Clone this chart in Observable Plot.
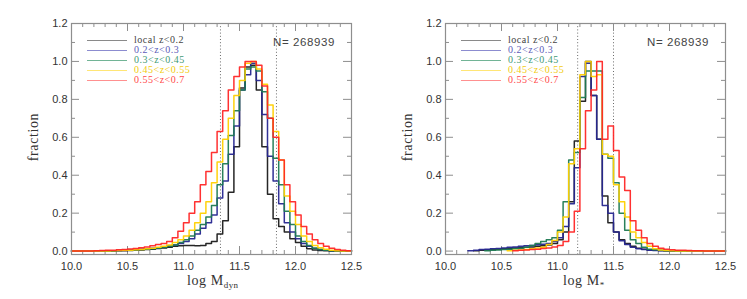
<!DOCTYPE html>
<html><head><meta charset="utf-8">
<script src="https://cdn.jsdelivr.net/npm/d3@7"></script>
<script src="https://cdn.jsdelivr.net/npm/@observablehq/plot@0.6"></script>
<style>
body{margin:0;background:#fff;}
#wrap{position:relative;width:747px;height:299px;overflow:hidden;background:#fff;}
#wrap svg{position:absolute;top:0;}
.t{position:absolute;white-space:nowrap;line-height:1;}
.ax{font-family:"Liberation Serif",serif;font-size:14px;color:#333;letter-spacing:0.6px;}
.ax sub{font-size:9px;vertical-align:-3px;letter-spacing:0.3px;}
.yl{transform:translate(-50%,-50%) rotate(-90deg);}
.nn{font-family:"Liberation Sans",sans-serif;font-size:11.5px;color:#444;letter-spacing:0.6px;}
.lg{font-family:"Liberation Serif",serif;font-size:10px;letter-spacing:0.5px;}
.ll{position:absolute;height:1px;width:40px;}
</style></head><body><div id="wrap"></div>
<script>
// bins: 0.05 dex wide, from 10.0 to 12.5
const binLo = d3.range(50).map(i => +(10 + i * 0.05).toFixed(2));
const binEnd = 12.5;

const seriesNames = ["local z<0.2", "0.2<z<0.3", "0.3<z<0.45", "0.45<z<0.55", "0.55<z<0.7"];
const lineColors = ["#1a1a1a", "#262690", "#1d7a52", "#ffd000", "#ff2626"];
const legendLineColors = ["#8a8a8a", "#8c8cd0", "#72b496", "#ffe676", "#ff9090"];
const legendTextColors = ["#444444", "#5c5cb8", "#3f9a74", "#f2cc10", "#ff4a4a"];

const xMajor = [10.0, 10.5, 11.0, 11.5, 12.0, 12.5];
const xMinor = [10.1,10.2,10.3,10.4,10.6,10.7,10.8,10.9,11.1,11.2,11.3,11.4,11.6,11.7,11.8,11.9,12.1,12.2,12.3,12.4];
const yMajor = [0.0, 0.2, 0.4, 0.6, 0.8, 1.0, 1.2];
const yMinor = [0.1, 0.3, 0.5, 0.7, 0.9, 1.1];

const totalN = "268939";

// ---- left panel: log M_dyn ----
const dynDotted = [11.33, 11.83];
const dynLocal = [0,0,0,0,0,0,0,0.001,0.002,0.002,
  0.003,0.004,0.006,0.008,0.010,0.013,0.016,0.020,0.025,0.028,
  0.030,0.030,0.028,0.030,0.040,0.050,0.090,0.160,0.310,0.550,
  0.860,0.970,0.980,0.850,0.550,0.300,0.170,0.130,0.100,0.065,
  0.045,0.025,0.012,0.006,0.003,0.002,0.001,0,0,0];
const dynZ1 = [0,0,0,0,0,0.001,0.001,0.002,0.003,0.004,
  0.005,0.007,0.010,0.012,0.015,0.018,0.022,0.027,0.032,0.040,
  0.050,0.065,0.090,0.120,0.150,0.190,0.280,0.370,0.510,0.660,
  0.850,0.930,0.990,0.900,0.720,0.500,0.370,0.250,0.150,0.100,
  0.065,0.040,0.025,0.015,0.008,0.004,0.002,0.001,0,0];
const dynZ2 = [0,0,0,0,0,0.001,0.001,0.002,0.003,0.004,
  0.005,0.006,0.008,0.010,0.012,0.015,0.020,0.025,0.032,0.045,
  0.060,0.080,0.110,0.140,0.180,0.240,0.350,0.460,0.610,0.740,
  0.850,0.960,0.970,0.950,0.840,0.700,0.490,0.350,0.210,0.140,
  0.080,0.050,0.030,0.015,0.008,0.004,0.002,0.001,0,0];
const dynZ3 = [0,0,0,0,0,0.001,0.001,0.002,0.003,0.004,
  0.005,0.007,0.009,0.012,0.015,0.020,0.025,0.032,0.045,0.060,
  0.080,0.110,0.150,0.200,0.260,0.360,0.470,0.590,0.700,0.820,
  0.900,0.990,1.000,0.960,0.880,0.770,0.630,0.480,0.290,0.210,
  0.140,0.080,0.050,0.030,0.018,0.010,0.005,0.002,0.001,0];
const dynZ4 = [0,0,0,0.001,0.002,0.003,0.004,0.005,0.007,0.009,
  0.011,0.014,0.018,0.022,0.028,0.035,0.040,0.050,0.070,0.105,
  0.150,0.200,0.260,0.350,0.420,0.520,0.630,0.740,0.850,0.920,
  0.970,1.000,1.000,0.980,0.870,0.700,0.600,0.480,0.350,0.260,
  0.190,0.130,0.090,0.060,0.040,0.025,0.015,0.008,0.004,0.002];

// ---- right panel: log M* ----
const starDotted = [11.18, 11.5];
const starLocal = [null,null,null,null,null,0.002,0.004,0.006,0.008,0.010,
  0.012,0.014,0.016,0.018,0.020,0.022,0.025,0.028,0.032,0.040,
  0.060,0.100,0.260,0.580,0.790,1.000,0.820,0.590,0.290,0.150,
  0.100,0.060,0.040,0.025,0.015,0.010,0.006,0.004,0.003,0.002,
  0.001,0.001,0.001,0,0,0,0,0,0,0];
const starZ1 = [null,null,null,null,0.002,0.004,0.008,0.010,0.012,0.014,
  0.016,0.020,0.022,0.025,0.028,0.030,0.033,0.036,0.040,0.050,
  0.070,0.130,0.250,0.440,0.920,0.990,0.820,0.590,0.240,0.200,
  0.100,0.055,0.035,0.020,0.012,0.008,0.005,0.003,0.002,0.001,
  0.001,0,0,0,0,0,0,0,0,0];
const starZ2 = [null,null,null,null,null,null,null,0.002,0.004,0.006,
  0.008,0.010,0.012,0.015,0.020,0.030,0.040,0.050,0.060,0.070,
  0.110,0.260,0.480,0.520,0.810,0.950,0.950,0.950,0.510,0.490,
  0.360,0.200,0.110,0.060,0.040,0.020,0.010,0.007,0.004,0.002,
  0.001,0.001,0,0,0,0,0,0,0,0];
const starZ3 = [null,null,null,null,null,null,null,null,null,null,
  null,0.002,0.004,0.006,0.008,0.012,0.016,0.020,0.035,0.056,
  0.100,0.180,0.460,0.540,0.930,1.000,0.920,0.930,0.510,0.500,
  0.350,0.260,0.180,0.100,0.070,0.045,0.025,0.012,0.006,0.003,
  0.002,0.001,0.001,0,0,0,0,0,0,0];
const starZ4 = [null,null,null,null,null,null,null,null,null,null,
  null,null,0.002,0.004,0.006,0.008,0.010,0.013,0.016,0.022,
  0.030,0.050,0.100,0.210,0.540,0.740,0.850,1.000,0.590,0.660,
  0.530,0.390,0.320,0.160,0.110,0.070,0.040,0.025,0.015,0.010,
  0.007,0.005,0.004,0.003,0.002,0.002,0.001,0.001,0.001,0];

function rows(values) {
  const r = binLo.map((x, i) => ({x, y: values[i]}));
  r.push({x: binEnd, y: values[values.length - 1]});
  return r;
}

function panel(width, series, dotted) {
  const mt = 23, mb = 45, ml = 71, mr = width - 351, H = 299;
  const iw = width - ml - mr, ih = H - mt - mb;
  const fc = "#8e8e8e";
  return Plot.plot({
    width, height: H,
    marginTop: mt, marginBottom: mb, marginLeft: ml, marginRight: mr,
    style: {fontFamily: "'Liberation Sans', sans-serif", fontSize: "11px", color: "#333", background: "transparent", overflow: "visible"},
    x: {domain: [10, 12.5], label: null},
    y: {domain: [-0.018, 1.2], label: null},
    marks: [
      Plot.ruleX(dotted, {x: d => d, stroke: "#6a6a6a", strokeDasharray: "1,2.2", strokeWidth: 1}),
      Plot.tickX(xMinor, {x: d => d, insetTop: ih - 4, stroke: fc}),
      Plot.tickX(xMinor, {x: d => d, insetBottom: ih - 4, stroke: fc}),
      Plot.tickX(xMajor, {x: d => d, insetTop: ih - 8, stroke: fc}),
      Plot.tickX(xMajor, {x: d => d, insetBottom: ih - 8, stroke: fc}),
      Plot.tickY(yMinor, {y: d => d, insetRight: iw - 4, stroke: fc}),
      Plot.tickY(yMinor, {y: d => d, insetLeft: iw - 4, stroke: fc}),
      Plot.tickY(yMajor, {y: d => d, insetRight: iw - 8, stroke: fc}),
      Plot.tickY(yMajor, {y: d => d, insetLeft: iw - 8, stroke: fc}),
      ...series.map((s, k) => Plot.line(rows(s), {
        x: "x", y: "y", curve: "step-after",
        stroke: lineColors[k], strokeWidth: 1.5, strokeOpacity: 0.95
      })),
      Plot.frame({stroke: fc, strokeWidth: 1.2}),
      Plot.axisX({ticks: xMajor, tickSize: 0, tickPadding: 8, tickFormat: d3.format(".1f"), label: null, fontSize: 11}),
      Plot.axisY({ticks: yMajor, tickSize: 0, tickPadding: 4, tickFormat: d3.format(".1f"), label: null, fontSize: 11})
    ]
  });
}

const wrap = document.getElementById("wrap");
const left = panel(374, [dynLocal, dynZ1, dynZ2, dynZ3, dynZ4], dynDotted);
left.style.left = "0px";
wrap.appendChild(left);
const right = panel(373, [starLocal, starZ1, starZ2, starZ3, starZ4], starDotted);
right.style.left = "374px";
wrap.appendChild(right);

function addText(html, cls, x, y, color) {
  const d = document.createElement("div");
  d.className = "t " + cls;
  d.innerHTML = html;
  d.style.left = x + "px";
  d.style.top = y + "px";
  if (color) d.style.color = color;
  wrap.appendChild(d);
  return d;
}

[0, 374].forEach((off, p) => {
  addText("fraction", "ax yl", off + 34, 137);
  addText(p === 0 ? "log M<sub>dyn</sub>" : "log M<sub>*</sub>", "ax", off + (p === 0 ? 187 : 189), 274);
  addText("N= " + totalN, "nn", off + 273, 37);
  seriesNames.forEach((name, k) => {
    const y = 39.5 + k * 10;
    const l = document.createElement("div");
    l.className = "ll";
    l.style.left = (off + 87) + "px";
    l.style.top = y + "px";
    l.style.background = legendLineColors[k];
    wrap.appendChild(l);
    addText(name.replace(/</g, "&lt;"), "lg", off + 134, y - 5, legendTextColors[k]);
  });
});
</script></body></html>
